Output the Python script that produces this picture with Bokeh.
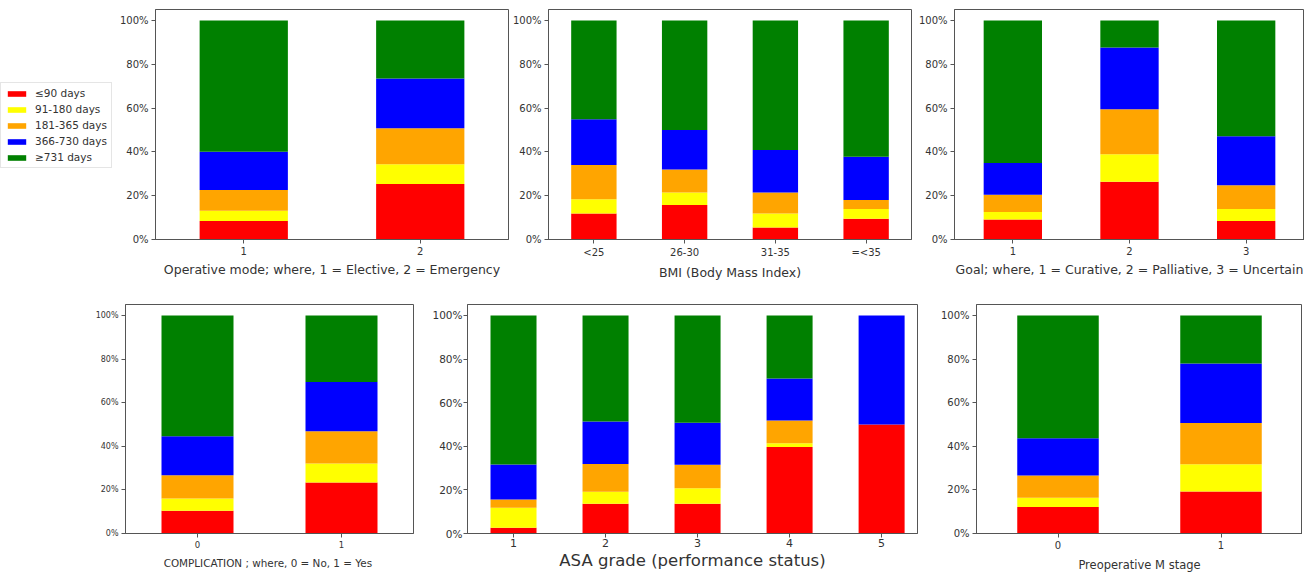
from bokeh.plotting import figure
from bokeh.layouts import column, row, Spacer
from bokeh.models import (ColumnDataSource, FixedTicker, PrintfTickFormatter,
                          Range1d, Legend, LegendItem)
from bokeh.embed import file_html
from bokeh.resources import INLINE

# ---------------- data ----------------
bins = ["≤90 days", "91-180 days", "181-365 days", "366-730 days", "≥731 days"]
colors = ["red", "yellow", "orange", "blue", "green"]
pct_ticks = [0, 20, 40, 60, 80, 100]

op_cats = ["1", "2"]
op_le90 = [8.4, 25.3]
op_91_180 = [4.7, 9.0]
op_181_365 = [9.5, 16.5]
op_366_730 = [17.5, 22.7]
op_ge731 = [59.9, 26.5]

bmi_cats = ["<25", "26-30", "31-35", "=<35"]
bmi_le90 = [11.9, 15.7, 5.5, 9.5]
bmi_91_180 = [6.5, 5.8, 6.4, 4.4]
bmi_181_365 = [15.6, 10.5, 9.6, 4.1]
bmi_366_730 = [20.9, 18.0, 19.4, 19.8]
bmi_ge731 = [45.1, 50.0, 59.1, 62.2]

goal_cats = ["1", "2", "3"]
goal_le90 = [9.1, 26.4, 8.5]
goal_91_180 = [3.4, 12.5, 5.4]
goal_181_365 = [7.9, 20.6, 10.9]
goal_366_730 = [14.5, 28.2, 22.3]
goal_ge731 = [65.1, 12.3, 52.9]

comp_cats = ["0", "1"]
comp_le90 = [10.4, 23.4]
comp_91_180 = [5.6, 8.7]
comp_181_365 = [10.7, 14.8]
comp_366_730 = [17.9, 22.6]
comp_ge731 = [55.4, 30.5]

asa_cats = ["1", "2", "3", "4", "5"]
asa_le90 = [2.6, 13.6, 13.6, 39.7, 50.0]
asa_91_180 = [9.2, 5.5, 7.2, 1.7, 0.0]
asa_181_365 = [3.8, 12.8, 10.7, 10.4, 0.0]
asa_366_730 = [16.0, 19.4, 19.3, 19.3, 50.0]
asa_ge731 = [68.4, 48.7, 49.2, 28.9, 0.0]

m_cats = ["0", "1"]
m_le90 = [12.2, 19.3]
m_91_180 = [4.2, 12.5]
m_181_365 = [10.2, 18.9]
m_366_730 = [17.1, 27.3]
m_ge731 = [56.3, 22.0]

FONT = "DejaVu Sans"
TXT = "#333333"
LINE = "#555555"


def panel(cats, series, xlabel, xmax, fw, fh, bl, br, bt, bb,
          ytick_px, xtick_px, label_px, tick_std=3, label_std=4):
    keys = ["s0", "s1", "s2", "s3", "s4"]
    data = {"x": list(range(len(cats)))}
    for k, s in zip(keys, series):
        data[k] = s
    src = ColumnDataSource(data)
    p = figure(frame_width=fw, frame_height=fh,
               x_range=Range1d(-0.5, xmax), y_range=Range1d(0, 105),
               toolbar_location=None, output_backend="svg", title=None,
               min_border_left=bl, min_border_right=br,
               min_border_top=bt, min_border_bottom=bb)
    p.vbar_stack(keys, x="x", width=0.5, fill_color=colors,
                 line_color=None, source=src)
    p.grid.visible = False
    p.outline_line_color = LINE
    p.outline_line_width = 1
    p.xaxis.ticker = FixedTicker(ticks=list(range(len(cats))))
    p.xaxis.major_label_overrides = {i: c for i, c in enumerate(cats)}
    p.yaxis.ticker = FixedTicker(ticks=pct_ticks)
    p.yaxis.formatter = PrintfTickFormatter(format="%d%%")
    for ax in (p.xaxis[0], p.yaxis[0]):
        ax.minor_tick_line_color = None
        ax.major_tick_in = 0
        ax.major_tick_out = 4
        ax.major_tick_line_color = LINE
        ax.axis_line_color = LINE
        ax.major_label_text_font = FONT
        ax.major_label_text_color = TXT
        ax.major_label_standoff = tick_std
    p.yaxis.major_label_text_font_size = f"{ytick_px}px"
    p.xaxis.major_label_text_font_size = f"{xtick_px}px"
    p.xaxis.axis_label = xlabel
    p.xaxis.axis_label_text_font = FONT
    p.xaxis.axis_label_text_font_style = "normal"
    p.xaxis.axis_label_text_font_size = f"{label_px}px"
    p.xaxis.axis_label_text_color = TXT
    p.xaxis.axis_label_standoff = label_std
    return p


# ---------- legend (own small figure, left of first panel) ----------
lf = figure(width=116, height=88, toolbar_location=None, output_backend="svg",
            title=None, min_border=0, x_axis_location=None, y_axis_location=None,
            x_range=Range1d(0, 1), y_range=Range1d(0, 1))
lf.outline_line_color = None
lf.grid.visible = False
lf_src = ColumnDataSource(dict(x=[-10], top=[0]))
items = []
for b, c in zip(bins, colors):
    r = lf.vbar(x="x", top="top", width=0.5, fill_color=c, line_color=None,
                source=lf_src)
    items.append(LegendItem(label=b, renderers=[r]))
leg = Legend(items=items, location="top_left", glyph_width=23, glyph_height=7,
             label_height=12, label_text_font=FONT, label_text_font_size="10.5px",
             label_text_color=TXT, label_standoff=7, padding=4, spacing=4,
             margin=0, border_line_color="#cccccc", border_line_width=1,
             background_fill_color="white")
lf.add_layout(leg)
legend_col = column(Spacer(width=116, height=82), lf)

p1 = panel(op_cats, [op_le90, op_91_180, op_181_365, op_366_730, op_ge731],
           "Operative mode; where, 1 = Elective, 2 = Emergency", 1.5,
           353, 230, 39, 1, 9, 55, 10, 10, 12.5)
p2 = panel(bmi_cats, [bmi_le90, bmi_91_180, bmi_181_365, bmi_366_730, bmi_ge731],
           "BMI (Body Mass Index)", 3.5,
           363, 230, 38, 1, 9, 55, 10, 10, 12.5)
p3 = panel(goal_cats, [goal_le90, goal_91_180, goal_181_365, goal_366_730, goal_ge731],
           "Goal; where, 1 = Curative, 2 = Palliative, 3 = Uncertain", 2.5,
           350, 230, 42, 0, 9, 55, 10, 10, 12.5)

p4 = panel(comp_cats, [comp_le90, comp_91_180, comp_181_365, comp_366_730, comp_ge731],
           "COMPLICATION ; where, 0 =  No, 1 = Yes", 1.5,
           288, 229, 125, 1, 10, 36, 8, 8.5, 10.4, tick_std=3, label_std=6)
p5 = panel(asa_cats, [asa_le90, asa_91_180, asa_181_365, asa_366_730, asa_ge731],
           "ASA grade (performance status)", 4.39,
           450, 229, 53, 1, 10, 36, 10.5, 11, 16.5, tick_std=1, label_std=1)
p6 = panel(m_cats, [m_le90, m_91_180, m_181_365, m_366_730, m_ge731],
           "Preoperative M stage", 1.5,
           326, 229, 58, 0, 10, 36, 10, 10, 11.5, tick_std=3, label_std=6)

layout = column(row(legend_col, p1, p2, p3), row(p4, p5, p6))
open("out.html", "w").write(file_html(layout, INLINE))
